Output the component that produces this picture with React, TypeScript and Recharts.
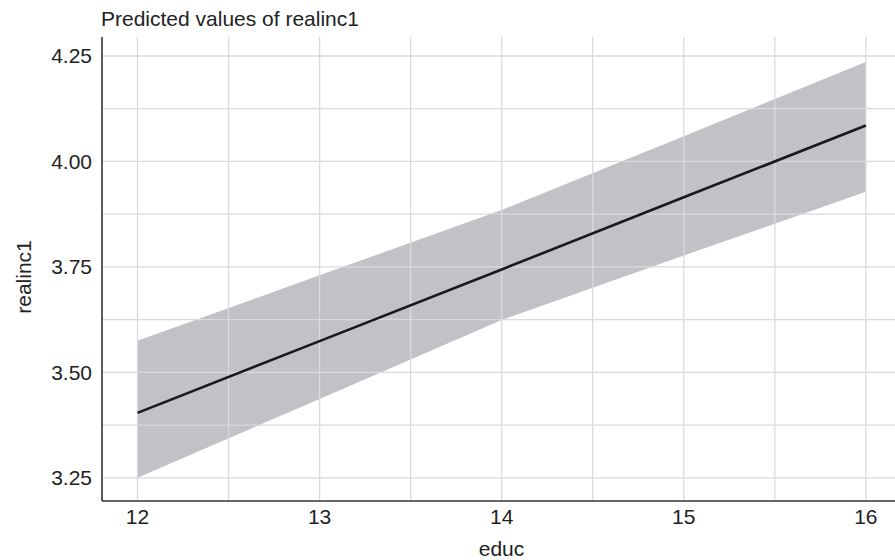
import React from 'react';
import { ComposedChart, Area, Line, XAxis, YAxis, ReferenceLine, Label } from 'recharts';

const educ = [12, 13, 14, 15, 16];
const predicted = [3.404, 3.574, 3.744, 3.915, 4.085];
const lower = [3.25, 3.437, 3.624, 3.777, 3.928];
const upper = [3.575, 3.73, 3.885, 4.06, 4.236];

const xTicks = [12, 12.5, 13, 13.5, 14, 14.5, 15, 15.5, 16];
const yTicks = [3.25, 3.375, 3.5, 3.625, 3.75, 3.875, 4.0, 4.125, 4.25];

const data = educ.map((e, i) => ({
  educ: e,
  predicted: predicted[i],
  band: [lower[i], upper[i]],
}));

const FONT = '"Liberation Sans", Arial, Helvetica, sans-serif';
const TEXT = '#222222';

export default function App() {
  return (
    <div style={{ position: 'absolute', left: 0, top: 0, width: 895, height: 560, fontFamily: FONT }}>
      <div
        style={{
          position: 'absolute',
          left: 101,
          top: 5,
          fontSize: 21,
          color: TEXT,
          fontFamily: FONT,
          lineHeight: '28px',
          whiteSpace: 'nowrap',
        }}
      >
        Predicted values of realinc1
      </div>
      <ComposedChart
        width={895}
        height={560}
        data={data}
        margin={{ top: 37, right: 0, bottom: 0, left: 0 }}
      >
        <XAxis
          dataKey="educ"
          type="number"
          domain={[11.805, 16.16]}
          ticks={xTicks}
          allowDataOverflow
          tickFormatter={(v: number) => (Number.isInteger(v) ? String(v) : '')}
          tick={{ fontSize: 21, fill: TEXT, fontFamily: FONT }}
          tickLine={false}
          tickSize={6}
          tickMargin={2}
          height={59}
          axisLine={{ stroke: '#333333', strokeWidth: 1.6 }}
        >
          <Label
            content={(props: any) => {
              const vb = props.viewBox || {};
              return (
                <text
                  x={vb.x + vb.width / 2 + 3}
                  y={556}
                  textAnchor="middle"
                  fontSize={21}
                  fill={TEXT}
                  fontFamily={FONT}
                >
                  educ
                </text>
              );
            }}
          />
        </XAxis>
        <YAxis
          type="number"
          domain={[3.195, 4.295]}
          ticks={yTicks}
          allowDataOverflow
          tickFormatter={(v: number) => (Math.abs((v * 4) - Math.round(v * 4)) < 1e-9 ? v.toFixed(2) : '')}
          tick={{ fontSize: 21, fill: TEXT, fontFamily: FONT }}
          tickLine={false}
          tickSize={6}
          tickMargin={4}
          width={102}
          axisLine={{ stroke: '#333333', strokeWidth: 1.6 }}
        >
          <Label
            content={() => (
              <text
                x={31}
                y={277}
                transform="rotate(-90 31 277)"
                textAnchor="middle"
                fontSize={21}
                fill={TEXT}
                fontFamily={FONT}
              >
                realinc1
              </text>
            )}
          />
        </YAxis>
        {xTicks.map((t) => (
          <ReferenceLine key={'gx' + t} x={t} stroke="#dadada" strokeWidth={1.3} />
        ))}
        {yTicks.map((t) => (
          <ReferenceLine key={'gy' + t} y={t} stroke="#dadada" strokeWidth={1.3} />
        ))}
        <Area
          dataKey="band"
          type="linear"
          fill="#a6a6ae"
          fillOpacity={0.7}
          stroke="none"
          isAnimationActive={false}
          activeDot={false}
          dot={false}
        />
        <Line
          dataKey="predicted"
          type="linear"
          stroke="#1a1a1a"
          strokeWidth={2.6}
          dot={false}
          activeDot={false}
          isAnimationActive={false}
        />
      </ComposedChart>
    </div>
  );
}
